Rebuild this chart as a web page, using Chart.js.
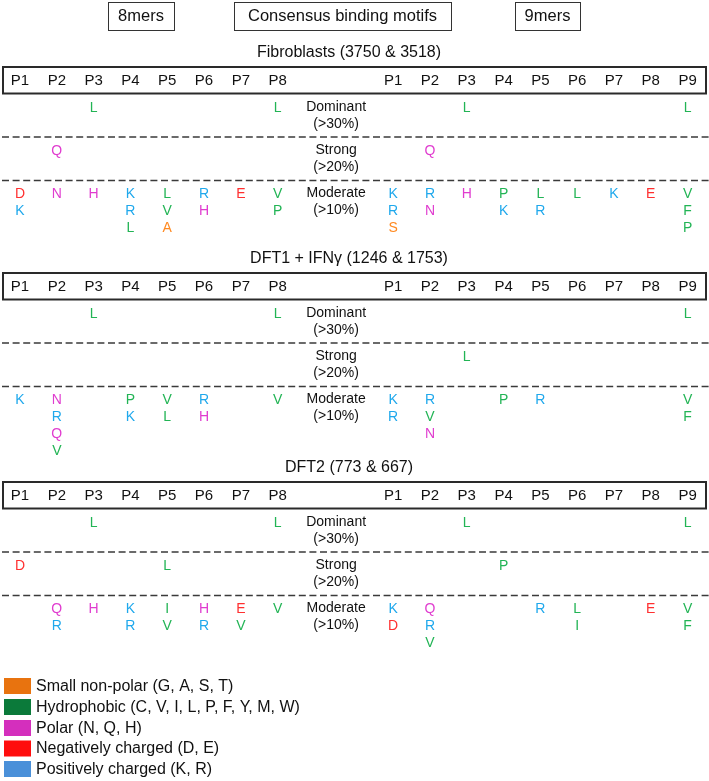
<!DOCTYPE html>
<html>
<head>
<meta charset="utf-8">
<script src="https://cdn.jsdelivr.net/npm/chart.js@4/dist/chart.umd.min.js"></script>
<style>
html,body{margin:0;padding:0;background:#fff;}
canvas{display:block;}
</style>
</head>
<body>
<canvas id="c" width="709" height="781"></canvas>
<script>
// ---------------- DATA ----------------
const positions8 = ["P1","P2","P3","P4","P5","P6","P7","P8"];
const positions9 = ["P1","P2","P3","P4","P5","P6","P7","P8","P9"];
const tierNames = ["Dominant","Strong","Moderate"];
const tierThresholds = ["(>30%)","(>20%)","(>10%)"];
const sectionTitles = ["Fibroblasts (3750 & 3518)","DFT1 + IFNγ (1246 & 1753)","DFT2 (773 & 667)"];
const headerBoxes = ["8mers","Consensus binding motifs","9mers"];

// Fibroblasts
const fib8Dominant = ["","","L","","","","","L"];
const fib8Strong   = ["","Q","","","","","",""];
const fib8Moderate = ["DK","N","H","KRL","LVA","RH","E","VP"];
const fib9Dominant = ["","","L","","","","","","L"];
const fib9Strong   = ["","Q","","","","","","",""];
const fib9Moderate = ["KRS","RN","H","PK","LR","L","K","E","VFP"];
// DFT1 + IFNγ
const dft1_8Dominant = ["","","L","","","","","L"];
const dft1_8Strong   = ["","","","","","","",""];
const dft1_8Moderate = ["K","NRQV","","PK","VL","RH","","V"];
const dft1_9Dominant = ["","","","","","","","","L"];
const dft1_9Strong   = ["","","L","","","","","",""];
const dft1_9Moderate = ["KR","RVN","","P","R","","","","VF"];
// DFT2
const dft2_8Dominant = ["","","L","","","","","L"];
const dft2_8Strong   = ["D","","","","L","","",""];
const dft2_8Moderate = ["","QR","H","KR","IV","HR","EV","V"];
const dft2_9Dominant = ["","","L","","","","","","L"];
const dft2_9Strong   = ["","","","P","","","","",""];
const dft2_9Moderate = ["KD","QRV","","","R","LI","","E","VF"];

// Residue classes (legend)
const classNames   = ["Small non-polar (G, A, S, T)","Hydrophobic (C, V, I, L, P, F, Y, M, W)","Polar (N, Q, H)","Negatively charged (D, E)","Positively charged (K, R)"];
const classLetters = ["GAST","CVILPFYMW","NQH","DE","KR"];
const classTextColors   = ["#ff8a22","#22b455","#e03ccf","#ff3030","#1fa8ec"];
const classSwatchColors = ["#e8730f","#0b7a3a","#d42fbd","#ff0d0d","#4a90d9"];

// ---------------- LAYOUT ----------------
const COL = 36.8;               // px per column
const X0PX = 20;                // px of 8mer P1
const NINE_START = 10.14;       // column index of 9mer P1
const MID = 8.59;               // column index of tier label
const XMIN = -X0PX / COL;
const XMAX = XMIN + 709 / COL;
const sectionTops = [67, 273, 482];
const ROW_STEP = 17.2;
const tierOffsets = [41, 84, 127];   // first letter row of each tier (from box top)

const sections = [
  {d8:fib8Dominant,s8:fib8Strong,m8:fib8Moderate,d9:fib9Dominant,s9:fib9Strong,m9:fib9Moderate},
  {d8:dft1_8Dominant,s8:dft1_8Strong,m8:dft1_8Moderate,d9:dft1_9Dominant,s9:dft1_9Strong,m9:dft1_9Moderate},
  {d8:dft2_8Dominant,s8:dft2_8Strong,m8:dft2_8Moderate,d9:dft2_9Dominant,s9:dft2_9Strong,m9:dft2_9Moderate}
];

function classOf(ch){ return classLetters.findIndex(s => s.includes(ch)); }

// build datasets: one per residue class, plus header/tier text
const classData = classNames.map(() => []);
const headerData = [];
const tierData = [];
sections.forEach((sec, si) => {
  const T = sectionTops[si];
  positions8.forEach((p, i) => headerData.push({x:i, y:T+13.5, t:p}));
  positions9.forEach((p, j) => headerData.push({x:NINE_START+j, y:T+13.5, t:p}));
  const tiers8 = [sec.d8, sec.s8, sec.m8];
  const tiers9 = [sec.d9, sec.s9, sec.m9];
  tiers8.forEach((arr, ti) => {
    arr.forEach((str, i) => {
      [...str].forEach((ch, k) => classData[classOf(ch)].push({x:i, y:T+tierOffsets[ti]+k*ROW_STEP, t:ch}));
    });
  });
  tiers9.forEach((arr, ti) => {
    arr.forEach((str, j) => {
      [...str].forEach((ch, k) => classData[classOf(ch)].push({x:NINE_START+j, y:T+tierOffsets[ti]+k*ROW_STEP, t:ch}));
    });
  });
  tierNames.forEach((n, ti) => {
    tierData.push({x:MID, y:T+tierOffsets[ti]-0.5, t:n});
    tierData.push({x:MID, y:T+tierOffsets[ti]+16.5, t:tierThresholds[ti]});
  });
});

const datasets = classNames.map((n, ci) => ({
  label: n, data: classData[ci], textColor: classTextColors[ci], font: "14px 'Liberation Sans', Arial, sans-serif",
  pointRadius: 0, showLine: false
}));
datasets.push({label:"positions", data: headerData, textColor:"#111", font:"15px 'Liberation Sans', Arial, sans-serif", pointRadius:0});
datasets.push({label:"tiers", data: tierData, textColor:"#111", font:"14px 'Liberation Sans', Arial, sans-serif", pointRadius:0});

// ---------------- PLUGINS ----------------
const textPlugin = {
  id: 'textMarks',
  afterDatasetsDraw(chart){
    const ctx = chart.ctx;
    chart.data.datasets.forEach((ds, di) => {
      const meta = chart.getDatasetMeta(di);
      ctx.save();
      ctx.fillStyle = ds.textColor;
      ctx.font = ds.font;
      ctx.textAlign = 'center';
      ctx.textBaseline = 'middle';
      meta.data.forEach((el, i) => {
        ctx.fillText(ds.data[i].t, el.x, el.y);
      });
      ctx.restore();
    });
  }
};

const framePlugin = {
  id: 'frame',
  beforeDatasetsDraw(chart){
    const ctx = chart.ctx;
    const xs = chart.scales.x, ys = chart.scales.y;
    const px = v => xs.getPixelForValue(XMIN + v / COL);   // px-to-value helper for decorations
    const py = v => ys.getPixelForValue(v);
    ctx.save();
    // top header boxes
    const hb = [[108,174],[234,451],[515,580]];
    ctx.strokeStyle = '#333'; ctx.lineWidth = 1;
    ctx.font = "16.5px 'Liberation Sans', Arial, sans-serif";
    ctx.fillStyle = '#111'; ctx.textAlign = 'center'; ctx.textBaseline = 'middle';
    hb.forEach((b, i) => {
      ctx.strokeRect(px(b[0])+0.5, py(2)+0.5, px(b[1])-px(b[0]), py(30)-py(2));
      ctx.fillText(headerBoxes[i], (px(b[0])+px(b[1]))/2, py(16.5));
    });
    // sections
    sectionTops.forEach((T, si) => {
      ctx.font = "16px 'Liberation Sans', Arial, sans-serif";
      ctx.fillStyle = '#111';
      ctx.fillText(sectionTitles[si], px(349), py(T-14.5));
      ctx.strokeStyle = '#2a2a2a'; ctx.lineWidth = 2;
      ctx.strokeRect(px(3), py(T), px(706)-px(3), py(T+26.5)-py(T));
      ctx.strokeStyle = '#3a3a3a'; ctx.lineWidth = 1.6;
      ctx.setLineDash([7,3.6]);
      [T+70, T+113.5].forEach(y => {
        ctx.beginPath(); ctx.moveTo(px(2), py(y)); ctx.lineTo(px(709), py(y)); ctx.stroke();
      });
      ctx.setLineDash([]);
    });
    // legend
    const ly = [686, 707, 728, 748.5, 769];
    ctx.font = "16px 'Liberation Sans', Arial, sans-serif";
    ctx.textAlign = 'left';
    classNames.forEach((n, i) => {
      ctx.fillStyle = classSwatchColors[i];
      ctx.fillRect(px(4), py(ly[i]-8), 27, 16);
      ctx.fillStyle = '#111';
      ctx.fillText(n, px(36), py(ly[i]+0.5));
    });
    ctx.restore();
  }
};

new Chart(document.getElementById('c'), {
  type: 'scatter',
  data: { datasets },
  options: {
    responsive: false,
    devicePixelRatio: 1,
    animation: false,
    layout: { padding: 0 },
    events: [],
    scales: {
      x: { type:'linear', min: XMIN, max: XMAX, display: false },
      y: { type:'linear', min: 0, max: 781, reverse: true, display: false }
    },
    plugins: { legend: { display:false }, tooltip: { enabled:false } }
  },
  plugins: [framePlugin, textPlugin]
});
</script>
</body>
</html>
